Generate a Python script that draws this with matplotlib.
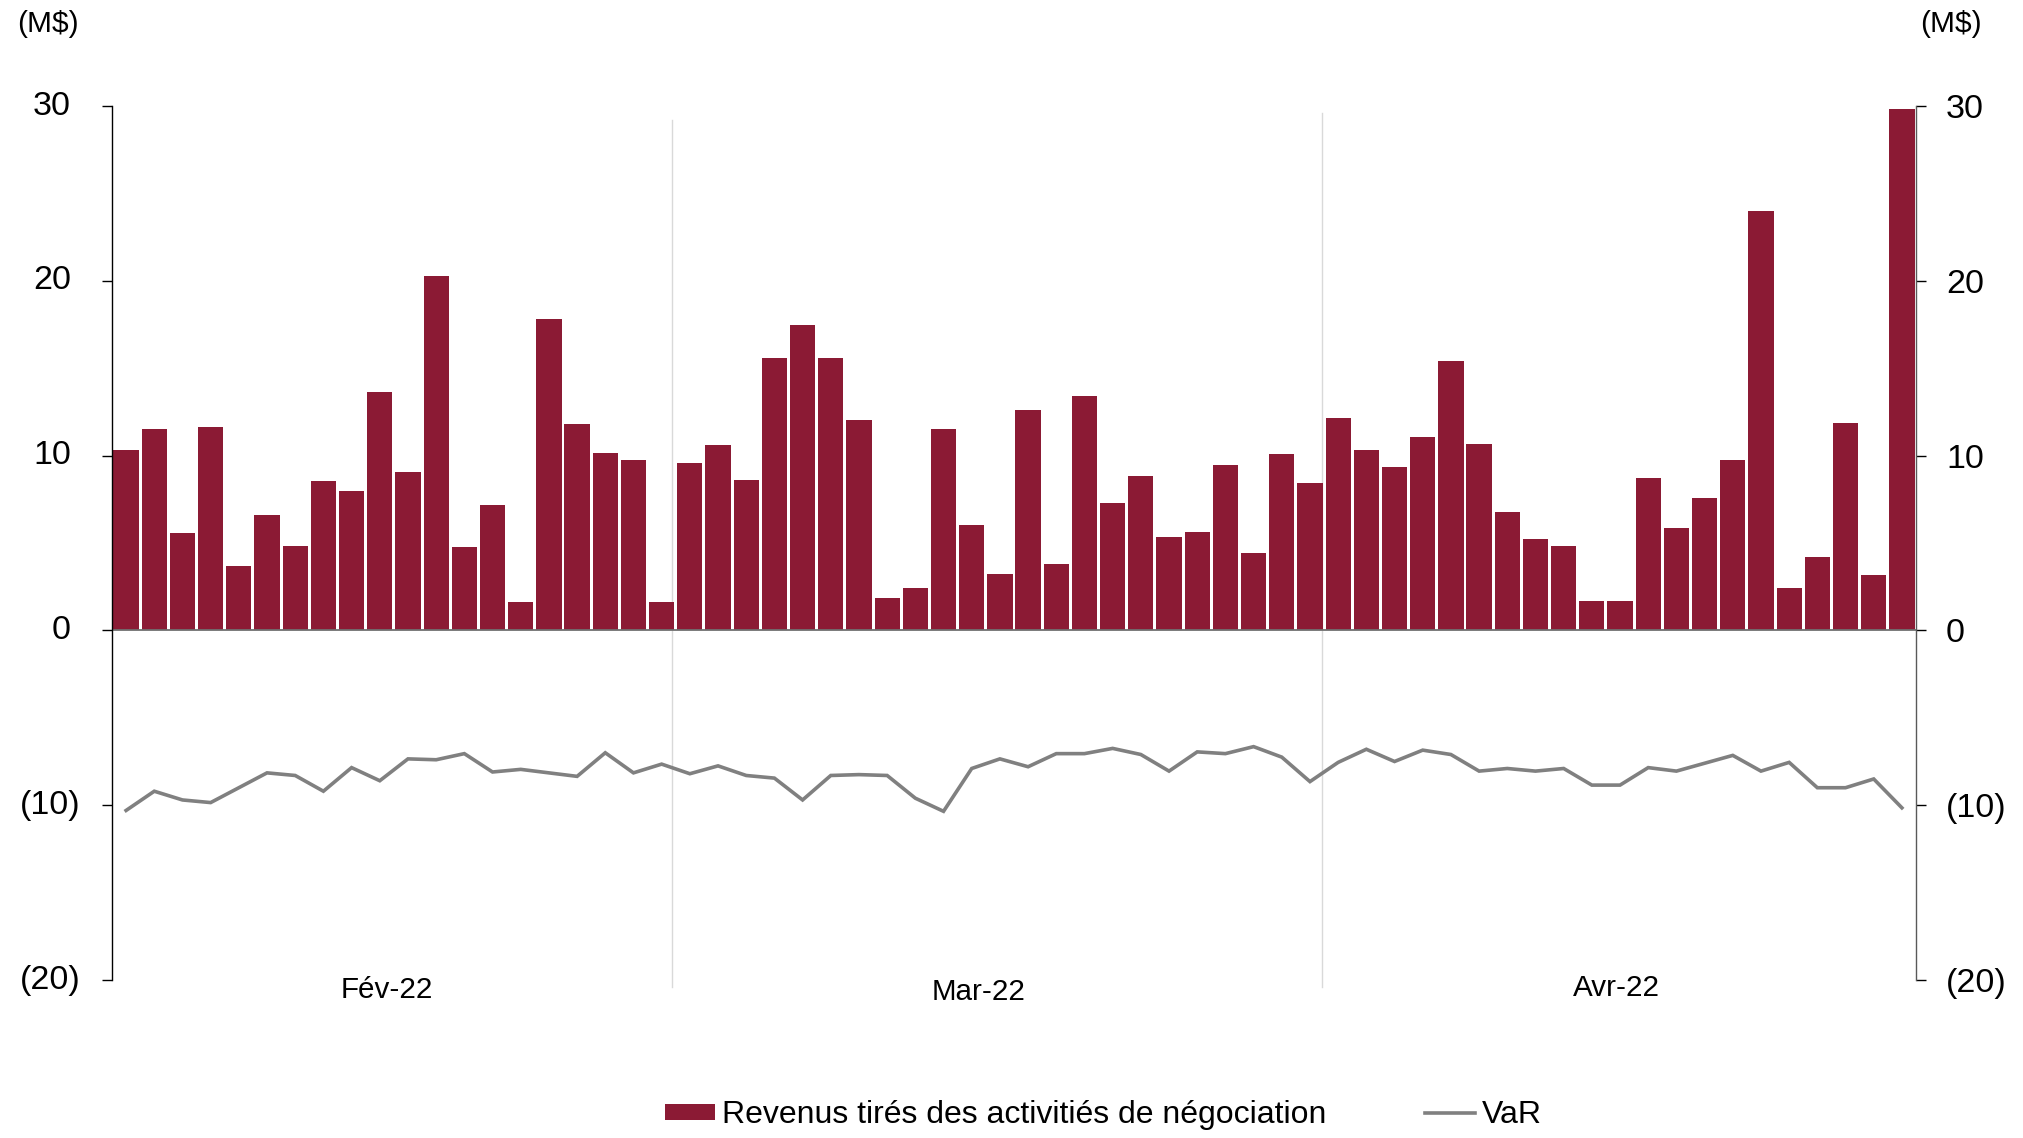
import matplotlib
matplotlib.use("Agg")
import matplotlib.pyplot as plt
from matplotlib.patches import Patch
from matplotlib.lines import Line2D
from matplotlib.transforms import blended_transform_factory
import numpy as np

plt.rcParams['font.family'] = ['Liberation Sans', 'DejaVu Sans']

# Daily trading revenues (M$), February to April 2022
revenus_fev = [10.3, 11.5, 5.6, 11.65, 3.7, 6.6, 4.8, 8.55, 8.0, 13.65,
               9.05, 20.3, 4.75, 7.2, 1.65, 17.8, 11.8, 10.15, 9.75, 1.6]
revenus_mar = [9.6, 10.6, 8.6, 15.6, 17.5, 15.6, 12.05, 1.85, 2.45, 11.5,
               6.05, 3.25, 12.6, 3.8, 13.4, 7.3, 8.85, 5.35, 5.65, 9.45,
               4.4, 10.1, 8.45]
revenus_avr = [12.15, 10.3, 9.35, 11.05, 15.4, 10.65, 6.8, 5.25, 4.8, 1.7,
               1.7, 8.7, 5.85, 7.6, 9.75, 24.0, 2.45, 4.2, 11.85, 3.15, 29.85]

# Daily value at risk (M$)
var_fev = [-10.3, -9.2, -9.7, -9.85, -9.0, -8.15, -8.3, -9.2, -7.85, -8.6,
           -7.35, -7.4, -7.05, -8.1, -7.95, -8.15, -8.35, -7.0, -8.15, -7.65]
var_mar = [-8.2, -7.75, -8.3, -8.45, -9.7, -8.3, -8.25, -8.3, -9.6, -10.35,
           -7.9, -7.35, -7.8, -7.05, -7.05, -6.75, -7.1, -8.05, -6.95, -7.05,
           -6.65, -7.25, -8.65]
var_avr = [-7.55, -6.8, -7.5, -6.85, -7.1, -8.05, -7.9, -8.05, -7.9, -8.85,
           -8.85, -7.85, -8.05, -7.6, -7.15, -8.05, -7.55, -9.0, -9.0, -8.5,
           -10.15]

mois = ["Fév-22", "Mar-22", "Avr-22"]
y_ticks = [30, 20, 10, 0, -10, -20]
unite = "(M$)"
legende = ["Revenus tirés des activitiés de négociation", "VaR"]

revenus = np.array(revenus_fev + revenus_mar + revenus_avr)
var = np.array(var_fev + var_mar + var_avr)
x = np.arange(len(revenus))

BAR = "#8B1A34"
LINE = "#808080"
FS_TICK = 24.5
FS_LEG = 23
FS_MOIS = 21.3
FS_UNIT = 21.5

fig = plt.figure(figsize=(20.23, 11.38), dpi=100)
ax = fig.add_axes([0.05536, 0.13884, 0.89175, 0.76801])

ax.bar(x, revenus, width=0.894, color=BAR, zorder=2, linewidth=0)
ax.axhline(0, color="#707070", lw=1.3, zorder=2.5)
ax.plot(x, var, color=LINE, lw=2.6, zorder=3, solid_joinstyle="miter")

ax.set_xlim(-0.5, len(revenus) - 0.5)
ax.set_ylim(-20, 30)

# month separators
n1 = len(revenus_fev)
n2 = n1 + len(revenus_mar)
ax.axvline(n1 - 0.63, ymin=-0.008, ymax=0.984, color="#D9D9D9", lw=1.0,
           clip_on=False, zorder=1)
ax.axvline(n2 - 0.59, ymin=-0.008, ymax=0.992, color="#D9D9D9", lw=1.0,
           clip_on=False, zorder=1)

# month labels
for xm, lab, yy in zip([9.26, 30.26, 52.89], mois, [-0.0114, -0.0137, -0.0092]):
    ax.text(xm, yy, lab, transform=blended_transform_factory(ax.transData, ax.transAxes),
            ha="center", va="center", fontsize=FS_MOIS)

# axes styling
for s in ["top", "bottom"]:
    ax.spines[s].set_visible(False)
ax.spines["left"].set_color("black")
ax.spines["left"].set_linewidth(1.0)
ax.spines["right"].set_color("#595959")
ax.spines["right"].set_linewidth(1.0)
ax.set_xticks([])
ax.set_yticks(y_ticks)


def fmt(v):
    v = int(round(v))
    return f"({abs(v)})" if v < 0 else f"{v}"


ax.set_yticklabels([fmt(v) for v in y_ticks])
ax.tick_params(axis="y", which="both", left=True, right=True, labelleft=False,
               labelright=True, direction="out", length=7.2, width=1.0,
               pad=14.4, labelsize=FS_TICK)
for t in ax.yaxis.get_ticklines():
    t.set_color("black")

# left tick labels: positive values keep room for the closing parenthesis
tr = blended_transform_factory(fig.transFigure, ax.transData)
for v in y_ticks:
    xr = 81 / 2023 if v < 0 else 71 / 2023
    ax.text(xr, v, fmt(v), transform=tr, ha="right", va="center", fontsize=FS_TICK)

# unit labels
fig.text(48 / 2023, 1 - 24 / 1138, unite, ha="center", va="center", fontsize=FS_UNIT)
fig.text(1951 / 2023, 1 - 24 / 1138, unite, ha="center", va="center", fontsize=FS_UNIT)

handles = [Patch(facecolor=BAR, edgecolor="none"),
           Line2D([0], [0], color=LINE, lw=2.6)]
fig.legend(handles, legende, loc="center", bbox_to_anchor=(0.5455, 0.0202),
           ncol=2, frameon=False, fontsize=FS_LEG, handlelength=1.55,
           handleheight=0.4, handletextpad=0.22, columnspacing=3.1,
           borderpad=0, borderaxespad=0)

fig.savefig("out.png", dpi=100)
